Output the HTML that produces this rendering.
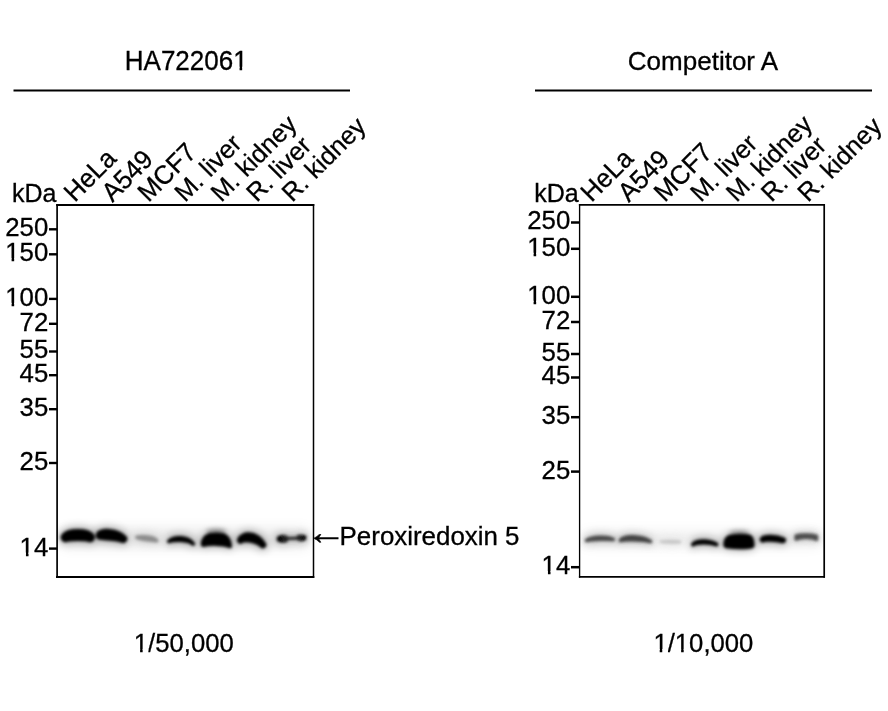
<!DOCTYPE html>
<html><head><meta charset="utf-8"><title>WB</title>
<style>
html,body{margin:0;padding:0;background:#fff;}
svg{display:block;font-family:"Liberation Sans",sans-serif;fill:#000;}
text{stroke:#000;stroke-width:0.3px;}
</style></head><body>
<svg width="888" height="711" viewBox="0 0 888 711">
<defs>
<filter id="b1" x="-50%" y="-200%" width="200%" height="500%"><feGaussianBlur stdDeviation="1.6"/></filter>
<filter id="b2" x="-50%" y="-200%" width="200%" height="500%"><feGaussianBlur stdDeviation="4"/></filter>
<clipPath id="cL"><rect x="57" y="205" width="256.5" height="372"/></clipPath><clipPath id="cR"><rect x="579.6" y="205" width="244.6" height="372"/></clipPath>
<filter id="b3" x="-50%" y="-200%" width="200%" height="500%"><feGaussianBlur stdDeviation="2.2"/></filter>
<filter id="b4" x="-20%" y="-300%" width="140%" height="700%"><feGaussianBlur stdDeviation="7"/></filter>
</defs>
<rect width="888" height="711" fill="#fff"/>
<!-- left panel -->
<text transform="translate(186.2 69.8) scale(1 1.06)" text-anchor="middle" font-size="26">HA722061</text><rect x="233.66" y="66.74" width="5.91" height="5.06" fill="#fff"/><rect x="242.16" y="66.74" width="5.70" height="5.06" fill="#fff"/>
<line x1="13.5" y1="90.5" x2="350" y2="90.5" stroke="#000" stroke-width="2"/>
<text x="11.9" y="201.6" font-size="25">kDa</text>
<text transform="translate(74.8 203) rotate(-45) scale(1 1.04)" font-size="25.5">HeLa</text>
<text transform="translate(112.5 203) rotate(-45) scale(1 1.04)" font-size="25.5">A549</text>
<text transform="translate(148.6 203) rotate(-45) scale(1 1.04)" font-size="25.5">MCF7</text>
<text transform="translate(184.9 203) rotate(-45)" font-size="25.5">M. liver</text>
<text transform="translate(221.2 203) rotate(-45)" font-size="25.5">M. kidney</text>
<text transform="translate(256.7 203) rotate(-45)" font-size="25.5">R. liver</text>
<text transform="translate(292.2 203) rotate(-45)" font-size="25.5">R. kidney</text>
<text transform="translate(48.3 236.2) scale(1 1.035)" text-anchor="end" font-size="25.8">250</text><line x1="49" y1="229.3" x2="57" y2="229.3" stroke="#000" stroke-width="2.4"/>
<text transform="translate(48.3 261.2) scale(1 1.035)" text-anchor="end" font-size="25.8">150</text><rect x="5.72" y="258.21" width="5.87" height="4.99" fill="#fff"/><rect x="14.17" y="258.21" width="5.67" height="4.99" fill="#fff"/><line x1="49" y1="254.3" x2="57" y2="254.3" stroke="#000" stroke-width="2.4"/>
<text transform="translate(48.3 305.8) scale(1 1.035)" text-anchor="end" font-size="25.8">100</text><rect x="5.72" y="302.81" width="5.87" height="4.99" fill="#fff"/><rect x="14.17" y="302.81" width="5.67" height="4.99" fill="#fff"/><line x1="49" y1="298.9" x2="57" y2="298.9" stroke="#000" stroke-width="2.4"/>
<text transform="translate(48.3 330.7) scale(1 1.035)" text-anchor="end" font-size="25.8">72</text><line x1="49" y1="323.8" x2="57" y2="323.8" stroke="#000" stroke-width="2.4"/>
<text transform="translate(48.3 358.4) scale(1 1.035)" text-anchor="end" font-size="25.8">55</text><line x1="49" y1="351.5" x2="57" y2="351.5" stroke="#000" stroke-width="2.4"/>
<text transform="translate(48.3 382.1) scale(1 1.035)" text-anchor="end" font-size="25.8">45</text><line x1="49" y1="375.2" x2="57" y2="375.2" stroke="#000" stroke-width="2.4"/>
<text transform="translate(48.3 416.1) scale(1 1.035)" text-anchor="end" font-size="25.8">35</text><line x1="49" y1="409.2" x2="57" y2="409.2" stroke="#000" stroke-width="2.4"/>
<text transform="translate(48.3 469.9) scale(1 1.035)" text-anchor="end" font-size="25.8">25</text><line x1="49" y1="463.0" x2="57" y2="463.0" stroke="#000" stroke-width="2.4"/>
<text transform="translate(48.3 555.5) scale(1 1.035)" text-anchor="end" font-size="25.8">14</text><rect x="20.07" y="552.51" width="5.87" height="4.99" fill="#fff"/><rect x="28.52" y="552.51" width="5.67" height="4.99" fill="#fff"/><line x1="49" y1="548.6" x2="57" y2="548.6" stroke="#000" stroke-width="2.4"/>
<g clip-path="url(#cL)"><rect x="62" y="529" width="246" height="18" fill="#000" opacity="0.09" filter="url(#b4)"/><g filter="url(#b2)" opacity="0.3"><path d="M65.7 537.3 C69.3 532.8 86.4 532.8 90 537.3 C86.4 535.6 69.3 535.6 65.7 537.3 Z" fill="#000" stroke="#000" stroke-width="14" stroke-linejoin="round"/><path d="M99.9 535.5 C99.8 531.6 116.2 531.6 123.2 538.8 C116.2 536.1 99.8 536.1 99.9 535.5 Z" fill="#000" stroke="#000" stroke-width="12.2" stroke-linejoin="round"/><path d="M137 537.4 C141.3 536.6 152.3 536.6 156.6 540.6 C152.3 539.7 141.3 539.7 137 537.4 Z" fill="#8c8c8c" stroke="#8c8c8c" stroke-width="7.8" stroke-linejoin="round"/><path d="M168.9 541.3 C174.2 536.3 187.8 536.3 193.2 543.9 C187.8 539.3 174.2 539.3 168.9 541.3 Z" fill="#000" stroke="#000" stroke-width="7.8" stroke-linejoin="round"/><path d="M201.6 544.6C201.6 540 204 535.6 209 533.9C214 533 220 533 224.3 534.2C228.8 536.2 230.8 541 231.2 546.2C231.2 547.6 230 547.7 228.8 547.1C223 544.6 210 544.6 204.4 546C202.6 546.4 201.6 545.8 201.6 544.6Z" fill="#000" stroke="#000" stroke-width="4" stroke-linejoin="round"/><path d="M240.5 540.2 C243.3 533.8 255.7 533.8 262.8 544.8 C255.7 537.8 243.3 537.8 240.5 540.2 Z" fill="#000" stroke="#000" stroke-width="11.0" stroke-linejoin="round"/><path d="M280 538.8 C281.2 538.4 284.3 538.4 285.5 538.8 C284.3 539.2 281.2 539.2 280 538.8 Z" fill="#000" stroke="#000" stroke-width="10.6" stroke-linejoin="round"/><path d="M299 537.9 C300.0 537.6 302.5 537.6 303.5 537.9 C302.5 538.2 300.0 538.2 299 537.9 Z" fill="#000" stroke="#000" stroke-width="9.8" stroke-linejoin="round"/><path d="M283 538.7 C287.0 538.3 297.0 538.3 301 538 C297.0 538.5 287.0 538.5 283 538.7 Z" fill="#262626" stroke="#262626" stroke-width="7.0" stroke-linejoin="round"/></g><g filter="url(#b1)"><path d="M65.7 537.3 C69.3 532.8 86.4 532.8 90 537.3 C86.4 535.6 69.3 535.6 65.7 537.3 Z" fill="#000" stroke="#000" stroke-width="10" stroke-linejoin="round"/><path d="M99.9 535.5 C99.8 531.6 116.2 531.6 123.2 538.8 C116.2 536.1 99.8 536.1 99.9 535.5 Z" fill="#000" stroke="#000" stroke-width="8.2" stroke-linejoin="round"/><path d="M137 537.4 C141.3 536.6 152.3 536.6 156.6 540.6 C152.3 539.7 141.3 539.7 137 537.4 Z" fill="#8c8c8c" stroke="#8c8c8c" stroke-width="3.8" stroke-linejoin="round"/><path d="M168.9 541.3 C174.2 536.3 187.8 536.3 193.2 543.9 C187.8 539.3 174.2 539.3 168.9 541.3 Z" fill="#000" stroke="#000" stroke-width="3.8" stroke-linejoin="round"/><path d="M201.6 544.6C201.6 540 204 535.6 209 533.9C214 533 220 533 224.3 534.2C228.8 536.2 230.8 541 231.2 546.2C231.2 547.6 230 547.7 228.8 547.1C223 544.6 210 544.6 204.4 546C202.6 546.4 201.6 545.8 201.6 544.6Z" fill="#000" stroke="#000" stroke-width="1.6" stroke-linejoin="round"/><path d="M240.5 540.2 C243.3 533.8 255.7 533.8 262.8 544.8 C255.7 537.8 243.3 537.8 240.5 540.2 Z" fill="#000" stroke="#000" stroke-width="7.0" stroke-linejoin="round"/><path d="M280 538.8 C281.2 538.4 284.3 538.4 285.5 538.8 C284.3 539.2 281.2 539.2 280 538.8 Z" fill="#000" stroke="#000" stroke-width="6.6" stroke-linejoin="round"/><path d="M299 537.9 C300.0 537.6 302.5 537.6 303.5 537.9 C302.5 538.2 300.0 538.2 299 537.9 Z" fill="#000" stroke="#000" stroke-width="5.8" stroke-linejoin="round"/><path d="M283 538.7 C287.0 538.3 297.0 538.3 301 538 C297.0 538.5 287.0 538.5 283 538.7 Z" fill="#262626" stroke="#262626" stroke-width="3.0" stroke-linejoin="round"/></g><g filter="url(#b3)" opacity="0.33"><ellipse cx="216" cy="531.3" rx="10" ry="2.6" fill="#000"/></g></g>
<path d="M57.1 204.1v373.8" stroke="#000" stroke-width="1.7" fill="none"/><path d="M56.2 205h258.1" stroke="#000" stroke-width="1.8" fill="none"/><path d="M313.5 204v373.9" stroke="#000" stroke-width="1.5" fill="none"/><path d="M56 577h258.3" stroke="#000" stroke-width="1.9" fill="none"/>
<text x="339.6" y="545" font-size="25.9">Peroxiredoxin 5</text><text transform="translate(306 544.1) scale(1.62 1.4)" font-size="25">←</text>
<text transform="translate(183.8 652) scale(1 1.005)" text-anchor="middle" font-size="25.7">1/50,000</text><rect x="134.24" y="649.07" width="5.86" height="4.93" fill="#fff"/><rect x="142.66" y="649.07" width="5.65" height="4.93" fill="#fff"/>
<!-- right panel -->
<text x="703" y="69.5" text-anchor="middle" font-size="26">Competitor A</text>
<line x1="535" y1="90.5" x2="872" y2="90.5" stroke="#000" stroke-width="2"/>
<text x="534.3" y="201.6" font-size="25">kDa</text>
<text transform="translate(591.6 203) rotate(-45) scale(1 1.04)" font-size="25.5">HeLa</text>
<text transform="translate(628.8 203) rotate(-45) scale(1 1.04)" font-size="25.5">A549</text>
<text transform="translate(664.8 203) rotate(-45) scale(1 1.04)" font-size="25.5">MCF7</text>
<text transform="translate(700.7 203) rotate(-45)" font-size="25.5">M. liver</text>
<text transform="translate(736.6 203) rotate(-45)" font-size="25.5">M. kidney</text>
<text transform="translate(771.6 203) rotate(-45)" font-size="25.5">R. liver</text>
<text transform="translate(808 203) rotate(-45)" font-size="25.5">R. kidney</text>
<text transform="translate(570.3 229.4) scale(1 1.035)" text-anchor="end" font-size="25.8">250</text><line x1="571" y1="222.5" x2="579" y2="222.5" stroke="#000" stroke-width="2.5"/>
<text transform="translate(570.3 255.7) scale(1 1.035)" text-anchor="end" font-size="25.8">150</text><rect x="527.72" y="252.71" width="5.87" height="4.99" fill="#fff"/><rect x="536.17" y="252.71" width="5.67" height="4.99" fill="#fff"/><line x1="571" y1="248.8" x2="579" y2="248.8" stroke="#000" stroke-width="2.5"/>
<text transform="translate(570.3 303.7) scale(1 1.035)" text-anchor="end" font-size="25.8">100</text><rect x="527.72" y="300.71" width="5.87" height="4.99" fill="#fff"/><rect x="536.17" y="300.71" width="5.67" height="4.99" fill="#fff"/><line x1="571" y1="296.8" x2="579" y2="296.8" stroke="#000" stroke-width="2.5"/>
<text transform="translate(570.3 328.9) scale(1 1.035)" text-anchor="end" font-size="25.8">72</text><line x1="571" y1="322.0" x2="579" y2="322.0" stroke="#000" stroke-width="2.5"/>
<text transform="translate(570.3 360.9) scale(1 1.035)" text-anchor="end" font-size="25.8">55</text><line x1="571" y1="354.0" x2="579" y2="354.0" stroke="#000" stroke-width="2.5"/>
<text transform="translate(570.3 384.4) scale(1 1.035)" text-anchor="end" font-size="25.8">45</text><line x1="571" y1="377.5" x2="579" y2="377.5" stroke="#000" stroke-width="2.5"/>
<text transform="translate(570.3 424.1) scale(1 1.035)" text-anchor="end" font-size="25.8">35</text><line x1="571" y1="417.2" x2="579" y2="417.2" stroke="#000" stroke-width="2.5"/>
<text transform="translate(570.3 478.5) scale(1 1.035)" text-anchor="end" font-size="25.8">25</text><line x1="571" y1="471.6" x2="579" y2="471.6" stroke="#000" stroke-width="2.5"/>
<text transform="translate(570.3 574.1) scale(1 1.035)" text-anchor="end" font-size="25.8">14</text><rect x="542.07" y="571.11" width="5.87" height="4.99" fill="#fff"/><rect x="550.52" y="571.11" width="5.67" height="4.99" fill="#fff"/><line x1="571" y1="567.2" x2="579" y2="567.2" stroke="#000" stroke-width="2.5"/>
<g clip-path="url(#cR)"><rect x="584" y="532" width="236" height="14" fill="#000" opacity="0.07" filter="url(#b4)"/><g filter="url(#b2)" opacity="0.3"><path d="M586.5 540.5 C592.4 536.3 607.6 536.3 613.5 539.5 C607.6 539.1 592.4 539.1 586.5 540.5 Z" fill="#4a4a4a" stroke="#4a4a4a" stroke-width="7.4" stroke-linejoin="round"/><path d="M620.5 540.5 C623.6 535.4 640.4 535.4 650.5 541.5 C640.4 539.3 623.6 539.3 620.5 540.5 Z" fill="#424242" stroke="#424242" stroke-width="7.6" stroke-linejoin="round"/><path d="M661 541.6 C665.2 541.3 675.8 541.3 680 542 C675.8 542.3 665.2 542.3 661 541.6 Z" fill="#c6c6c6" stroke="#c6c6c6" stroke-width="6.8" stroke-linejoin="round"/><path d="M693 544.5 C696.4 540.2 709.6 540.2 716.5 544.5 C709.6 541.8 696.4 541.8 693 544.5 Z" fill="#000" stroke="#000" stroke-width="8" stroke-linejoin="round"/><path d="M724.1 545C724.1 540.2 725.2 537.6 728.3 536.1C733 534.3 745 534.1 749.7 535.4C752.8 536.6 753.8 540 753.8 545.3C753.8 547.3 752.3 547.8 750 547.9C745 548.5 733 548.5 728.3 547.8C725.2 547.4 724.1 546.8 724.1 545Z" fill="#000" stroke="#000" stroke-width="4" stroke-linejoin="round"/><path d="M762.7 539.5 C764.3 537.0 775.7 537.0 783 540.3 C775.7 538.4 764.3 538.4 762.7 539.5 Z" fill="#000" stroke="#000" stroke-width="10" stroke-linejoin="round"/><path d="M795.3 535.2C800 533.7 811 533.6 817.3 535.4L817.5 539.6C817.5 540.3 816.6 540.5 815.8 540C811 537.6 801 537.6 797 539.8C796.2 540.3 795.1 540.1 795.1 539.3Z" fill="#4e4e4e" stroke="#4e4e4e" stroke-width="4" stroke-linejoin="round"/></g><g filter="url(#b1)"><path d="M586.5 540.5 C592.4 536.3 607.6 536.3 613.5 539.5 C607.6 539.1 592.4 539.1 586.5 540.5 Z" fill="#4a4a4a" stroke="#4a4a4a" stroke-width="3.4" stroke-linejoin="round"/><path d="M620.5 540.5 C623.6 535.4 640.4 535.4 650.5 541.5 C640.4 539.3 623.6 539.3 620.5 540.5 Z" fill="#424242" stroke="#424242" stroke-width="3.6" stroke-linejoin="round"/><path d="M661 541.6 C665.2 541.3 675.8 541.3 680 542 C675.8 542.3 665.2 542.3 661 541.6 Z" fill="#c6c6c6" stroke="#c6c6c6" stroke-width="2.8" stroke-linejoin="round"/><path d="M693 544.5 C696.4 540.2 709.6 540.2 716.5 544.5 C709.6 541.8 696.4 541.8 693 544.5 Z" fill="#000" stroke="#000" stroke-width="4" stroke-linejoin="round"/><path d="M724.1 545C724.1 540.2 725.2 537.6 728.3 536.1C733 534.3 745 534.1 749.7 535.4C752.8 536.6 753.8 540 753.8 545.3C753.8 547.3 752.3 547.8 750 547.9C745 548.5 733 548.5 728.3 547.8C725.2 547.4 724.1 546.8 724.1 545Z" fill="#000" stroke="#000" stroke-width="1.6" stroke-linejoin="round"/><path d="M762.7 539.5 C764.3 537.0 775.7 537.0 783 540.3 C775.7 538.4 764.3 538.4 762.7 539.5 Z" fill="#000" stroke="#000" stroke-width="6" stroke-linejoin="round"/><path d="M795.3 535.2C800 533.7 811 533.6 817.3 535.4L817.5 539.6C817.5 540.3 816.6 540.5 815.8 540C811 537.6 801 537.6 797 539.8C796.2 540.3 795.1 540.1 795.1 539.3Z" fill="#4e4e4e" stroke="#4e4e4e" stroke-width="1.6" stroke-linejoin="round"/></g><g filter="url(#b3)" opacity="0.3"><ellipse cx="739" cy="532.6" rx="10" ry="2.4" fill="#000"/></g></g>
<path d="M579.6 204.1v373.6" stroke="#000" stroke-width="1.35" fill="none"/><path d="M578.9 204.9h246.1" stroke="#000" stroke-width="1.6" fill="none"/><path d="M824.2 204.1v373.6" stroke="#000" stroke-width="1.7" fill="none"/><path d="M578.9 576.9h246.1" stroke="#000" stroke-width="1.7" fill="none"/>
<text transform="translate(703.4 652) scale(1 1.005)" text-anchor="middle" font-size="25.7">1/10,000</text><rect x="653.84" y="649.07" width="5.86" height="4.93" fill="#fff"/><rect x="662.26" y="649.07" width="5.65" height="4.93" fill="#fff"/><rect x="675.27" y="649.07" width="5.86" height="4.93" fill="#fff"/><rect x="683.70" y="649.07" width="5.65" height="4.93" fill="#fff"/>
</svg>
</body></html>
